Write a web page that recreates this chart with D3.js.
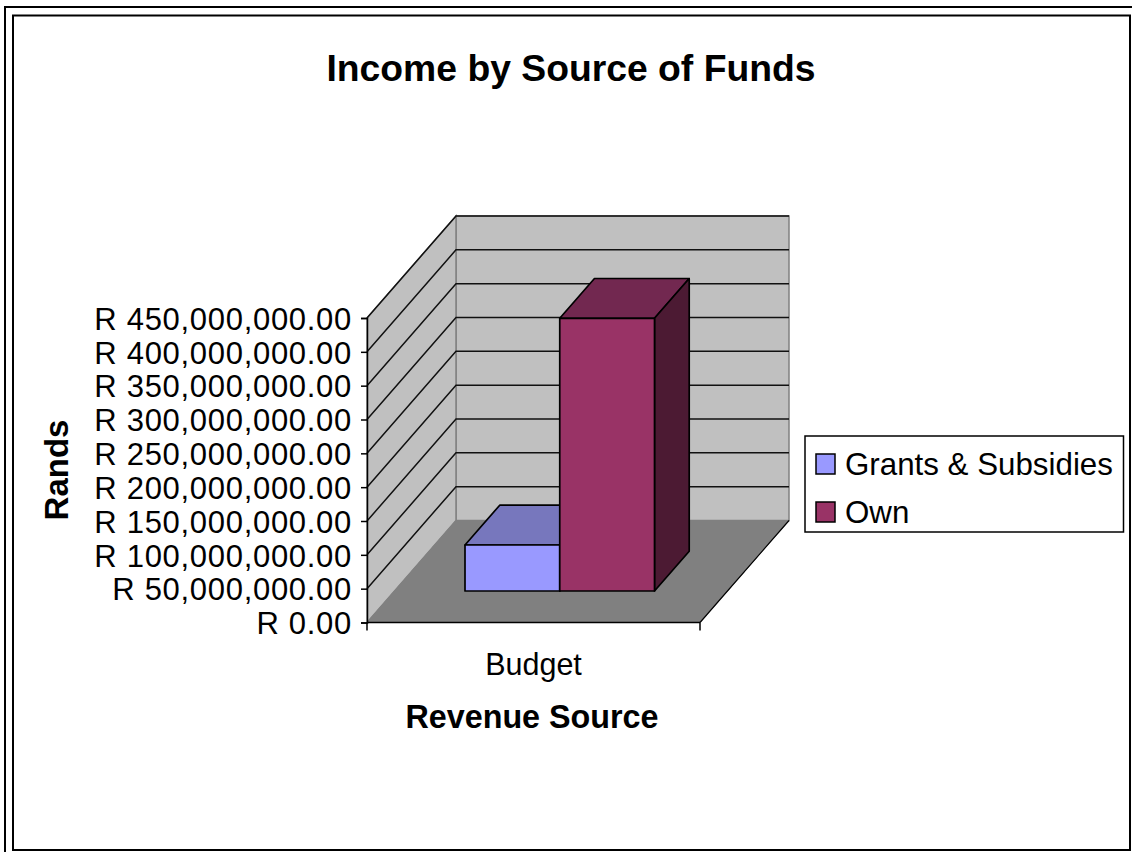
<!DOCTYPE html>
<html><head><meta charset="utf-8">
<script src="https://cdn.jsdelivr.net/npm/d3@7/dist/d3.min.js"></script>
<style>html,body{margin:0;padding:0;background:#fff;overflow:hidden}svg{display:block}text{font-family:"Liberation Sans",Arial,sans-serif;fill:#000}</style>
</head><body><svg id="c" width="1132" height="852"></svg>
<script>
const categories = ["Budget"];
const seriesNames = ["Grants & Subsidies", "Own"];
const seriesValues = [68000000, 403000000];
const seriesColors = ["#9999ff", "#993366"];
const topColors = ["#7777bd", "#722850"];
const sideColors = ["#5a5a90", "#4c1a33"];
const yTicks = [0,50e6,100e6,150e6,200e6,250e6,300e6,350e6,400e6,450e6];
const titleText = "Income by Source of Funds";
const xTitle = "Revenue Source";
const yTitle = "Rands";

const svg = d3.select("#c");
const fmt = v => "R " + d3.format(",.2f")(v);
const y = d3.scaleLinear().domain([0,450e6]).range([622.5,318]);
const xCat = d3.scaleBand().domain(categories).range([367,700]);
const dx = d3.scaleLinear().domain([0,1]).range([0,89]);
const dy = d3.scaleLinear().domain([0,1]).range([0,102]);
const P = (x,yy,d)=>[x+dx(d), yy-dy(d)];
const poly = pts => pts.map(p=>p.join(",")).join(" ");
const x0=xCat.range()[0], x1=xCat.range()[1], yB=y(0), yT=y(450e6);

// frames
svg.append("path").attr("d","M5,852V7H1132").attr("fill","none").attr("stroke","#000").attr("stroke-width",2);
svg.append("path").attr("d","M13,15.5H1130V850H13Z").attr("fill","#fff").attr("stroke","#000").attr("stroke-width",2);

// walls
svg.append("polygon").attr("points",poly([P(x0,yB,1),P(x1,yB,1),P(x1,yT,1),P(x0,yT,1)])).attr("fill","#c0c0c0").attr("stroke","#808080").attr("stroke-width",1.5);
svg.append("polygon").attr("points",poly([P(x0,yB,0),P(x0,yB,1),P(x0,yT,1),P(x0,yT,0)])).attr("fill","#c0c0c0").attr("stroke","#808080").attr("stroke-width",1.5);
svg.append("polygon").attr("points",poly([P(x0,yB,0),P(x1,yB,0),P(x1,yB,1),P(x0,yB,1)])).attr("fill","#808080").attr("stroke","#808080").attr("stroke-width",1);
svg.append("line").attr("x1",x1).attr("y1",yB).attr("x2",P(x1,yB,1)[0]).attr("y2",P(x1,yB,1)[1]).attr("stroke","#000").attr("stroke-width",1.2);

// gridlines
yTicks.slice(1).forEach(t=>{
  const a=P(x0,y(t),0), b=P(x0,y(t),1), c=P(x1,y(t),1);
  svg.append("polyline").attr("points",poly([a,b,c])).attr("fill","none").attr("stroke","#111").attr("stroke-width",1.5);
});

// bars
const d0=0.309, d1=0.699;
const xBar = d3.scaleBand().domain(seriesNames).range([465,654.5]);
seriesNames.forEach((s,i)=>{
  const l=xBar(s), r=l+xBar.bandwidth(), b=591, t=b-(y(0)-y(seriesValues[i]));
  const de=d1-d0;
  const o=(x,yy)=>[x+dx(de), yy-dy(de)];
  const add=(pts,f)=>svg.append("polygon").attr("points",poly(pts)).attr("fill",f).attr("stroke","#000").attr("stroke-width",1.7).attr("stroke-linejoin","round");
  add([[l,t],[r,t],o(r,t),o(l,t)],topColors[i]);
  add([[r,b],o(r,b),o(r,t),[r,t]],sideColors[i]);
  add([[l,b],[r,b],[r,t],[l,t]],seriesColors[i]);
});

// axes
const yAxis = d3.axisLeft(y).tickValues(yTicks).tickFormat(fmt).tickSize(6).tickPadding(9);
const gy = svg.append("g").attr("transform",`translate(${x0},0)`).call(yAxis);
gy.selectAll("text").style("font-size","31px").style("letter-spacing","0.7px").style("font-family",'"Liberation Sans",Arial,sans-serif').attr("dy","0.36em");
gy.selectAll("line,path").attr("stroke","#000").attr("stroke-width",1.5);
const gx = svg.append("g").attr("transform",`translate(0,${yB})`);
gx.append("line").attr("x1",x0).attr("x2",x1).attr("stroke","#000").attr("stroke-width",1.5);
[x0,x1].forEach(v=>gx.append("line").attr("x1",v).attr("x2",v).attr("y1",0).attr("y2",8).attr("stroke","#000").attr("stroke-width",1.5));
categories.forEach(c=>svg.append("text").attr("x",xCat(c)+xCat.bandwidth()/2).attr("y",675).attr("text-anchor","middle").style("font-size","30.5px").text(c));

// titles
svg.append("text").attr("x",571).attr("y",81).attr("text-anchor","middle").style("font-size","37.3px").style("font-weight","bold").text(titleText);
svg.append("text").attr("x",532).attr("y",728).attr("text-anchor","middle").style("font-size","32.3px").style("font-weight","bold").text(xTitle);
svg.append("text").attr("transform","translate(68,470) rotate(-90)").attr("text-anchor","middle").style("font-size","33px").style("font-weight","bold").text(yTitle);

// legend
svg.append("rect").attr("x",805).attr("y",436).attr("width",318.5).attr("height",96).attr("fill","#fff").attr("stroke","#000").attr("stroke-width",1.5);
seriesNames.forEach((s,i)=>{
  const ly=464+i*48;
  svg.append("rect").attr("x",816).attr("y",ly-10).attr("width",19).attr("height",20).attr("fill",seriesColors[i]).attr("stroke","#000").attr("stroke-width",1.5);
  svg.append("text").attr("x",845).attr("y",ly+11).style("font-size","31.3px").text(s);
});
</script></body></html>
